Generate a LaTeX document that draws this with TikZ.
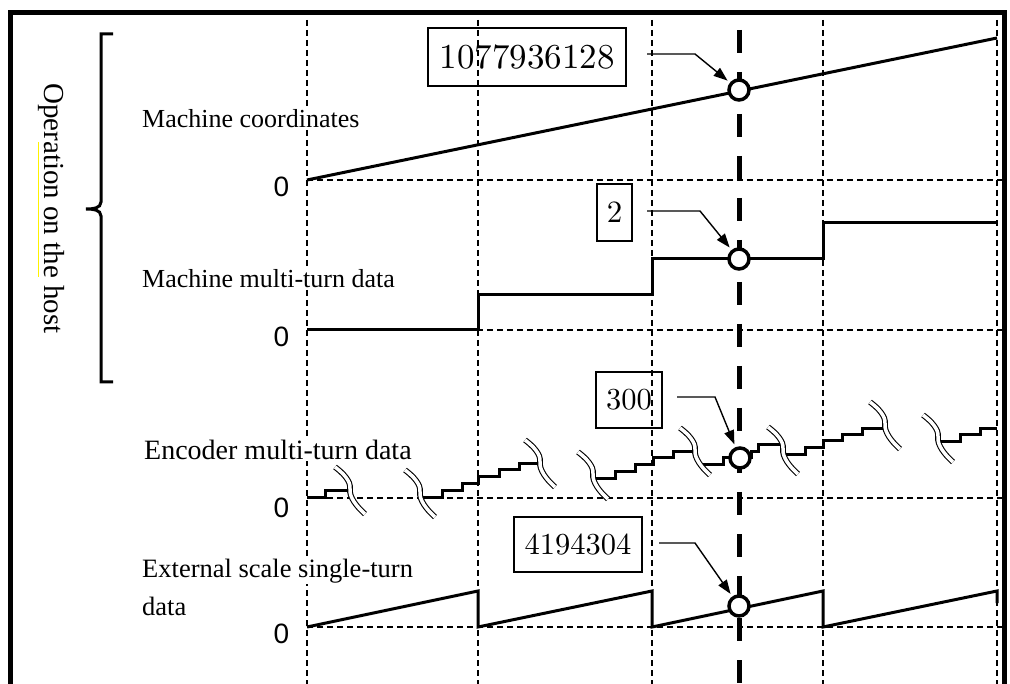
\documentclass[tikz,border=0pt]{standalone}
\usepackage{fontspec}
\setmainfont{Liberation Serif}
\newfontfamily\sansf{Liberation Sans}
\newcommand\lmr{\fontfamily{lmr}\fontsize{10}{12}\selectfont}
\newcommand\valtext[2]{\scalebox{#1}{\lmr #2}}
\usetikzlibrary{arrows.meta}
\begin{document}
\begin{tikzpicture}[x=1pt,y=-1pt,
  gridline/.style={line width=1.2pt, dash pattern=on 6pt off 4pt},
  bigdash/.style={line width=5pt, dash pattern=on 23pt off 19pt},
  sig/.style={line width=3pt, line join=miter},
  brkline/.style={double=white, double distance=3.5pt, line width=1.1pt},
  ringmark/.style={circle, draw, fill=white, line width=3.5pt, minimum size=20pt, inner sep=0pt},
  lab/.style={anchor=base west, inner sep=1pt, fill=white, font=\fontsize{26}{30}\selectfont},
  zero/.style={anchor=base, inner sep=0pt, font=\sansf\fontsize{28}{30}\selectfont},
  valbox/.style={draw, line width=1.4pt, inner sep=0pt},
  lead/.style={line width=1.4pt, -{Triangle[length=14pt,width=10pt]}},
]
\useasboundingbox (0,0) rectangle (1010,684);
\newcommand\brk[1]{\draw[brkline, shift={(#1)}] (0,0) .. controls (8,6) and (16,14) .. (15,22) .. controls (14,30) and (22,40) .. (30,47);}

% frame
\draw[line width=5pt] (10.5,690) -- (10.5,12.5) -- (1004,12.5) -- (1004,690);

% grid
\foreach \x in {307,478,652,823,997} \draw[gridline] (\x,20) -- (\x,684);
\foreach \y in {180,330,498,627} \draw[gridline] (307,\y) -- (1003,\y);

% labels (white background hides the grid behind them)
\node[lab] (l1) at (141,128) {Machine coordinates};
\node[lab] (l2) at (141,288) {Machine multi-turn data};
\node[lab, font=\fontsize{28}{30}\selectfont] (l3) at (143,460) {Encoder multi-turn data};
\node[lab, font=\fontsize{26.5}{30}\selectfont] (l4) at (141,577) {External scale single-turn};
\node[lab, font=\fontsize{26.5}{30}\selectfont] (l5) at (141,615) {data};
\foreach \y/\n in {197/z1,347/z2,518/z3,643/z4} \node[zero] (\n) at (281.5,\y) {0};

% thick dashed time marker
\draw[bigdash] (739,30) -- (739,690);

% machine coordinates
\draw[sig] (307,180) -- (997,38);
% machine multi-turn
\draw[sig] (307,330) -- (478,330) -- (478,295) -- (652,295) -- (652,259) -- (823,259) -- (823,223) -- (997,223);
% encoder multi-turn (staircase with breaks)
\draw[sig] (307,498) -- (325,498) -- (325,491) -- (350,491);
\draw[sig] (421,498) -- (442,498) -- (442,491) -- (462,491) -- (462,484) -- (478,484) -- (478,477) -- (499,477) -- (499,470) -- (519,470) -- (519,464) -- (540,464);
\draw[sig] (596,479) -- (615,479) -- (615,472) -- (635,472) -- (635,465) -- (653,465) -- (653,458) -- (673,458) -- (673,452) -- (695,452);
\draw[sig] (703,465) -- (723,465) -- (723,458) -- (751,458) -- (751,452) -- (758,452) -- (758,445) -- (781,445);
\draw[sig] (786,455) -- (805,455) -- (805,448) -- (823,448) -- (823,441) -- (842,441) -- (842,435) -- (862,435) -- (862,429) -- (886,429);
\draw[sig] (941,442) -- (960,442) -- (960,435) -- (980,435) -- (980,429) -- (997,429);
\brk{335,467}
\brk{405,470}
\brk{525,440}
\brk{578,452}
\brk{680,428}
\brk{768,427}
\brk{870,402}
\brk{923,415}
% external scale single-turn
\draw[sig] (307,627) -- (478,591) -- (478,627) -- (652,591) -- (652,627) -- (823,591) -- (823,627) -- (997,591) -- (997,603);

% markers
\node[ringmark] (c1) at (739,90) {};
\node[ringmark] (c2) at (739,259) {};
\node[ringmark] (c3) at (740,458) {};
\node[ringmark] (c4) at (739,606) {};

% host brace and label
\draw[line width=3pt] (113,34) -| (101,202) to[out=-90,in=0] (86,209) to[out=0,in=90] (101,216) |- (113,382);
\draw[yellow, line width=1pt] (38,142) -- (38,277);
\node[rotate=-90, inner sep=0pt, font=\fontsize{29}{30}\selectfont] (host) at (51,208.5) {Operation on the host};

% value boxes
\node[valbox, minimum width=198pt, minimum height=58pt] (v1) at (527,57) {\valtext{3.5}{1077936128}};
\node[valbox, minimum width=35pt, minimum height=57pt] (v2) at (614.5,212.5) {\valtext{3.1}{2}};
\node[valbox, minimum width=66pt, minimum height=56pt] (v3) at (629,400) {\valtext{3.05}{300}};
\node[valbox, minimum width=128pt, minimum height=55pt] (v4) at (578,544.5) {\valtext{3.05}{4194304}};

% leaders
\coordinate (s1) at (647,54);  \coordinate (k1) at (695,54);
\coordinate (s2) at (647,211); \coordinate (k2) at (700,211);
\coordinate (s3) at (677,397); \coordinate (k3) at (715,397);
\coordinate (s4) at (659,543); \coordinate (k4) at (695,543);
\draw[lead, shorten >=3pt] (s1) -- (k1) -- (c1);
\draw[lead, shorten >=3pt] (s2) -- (k2) -- (c2);
\draw[lead, shorten >=3pt] (s3) -- (k3) -- (c3);
\draw[lead, shorten >=3pt] (s4) -- (k4) -- (c4);
\end{tikzpicture}
\end{document}
